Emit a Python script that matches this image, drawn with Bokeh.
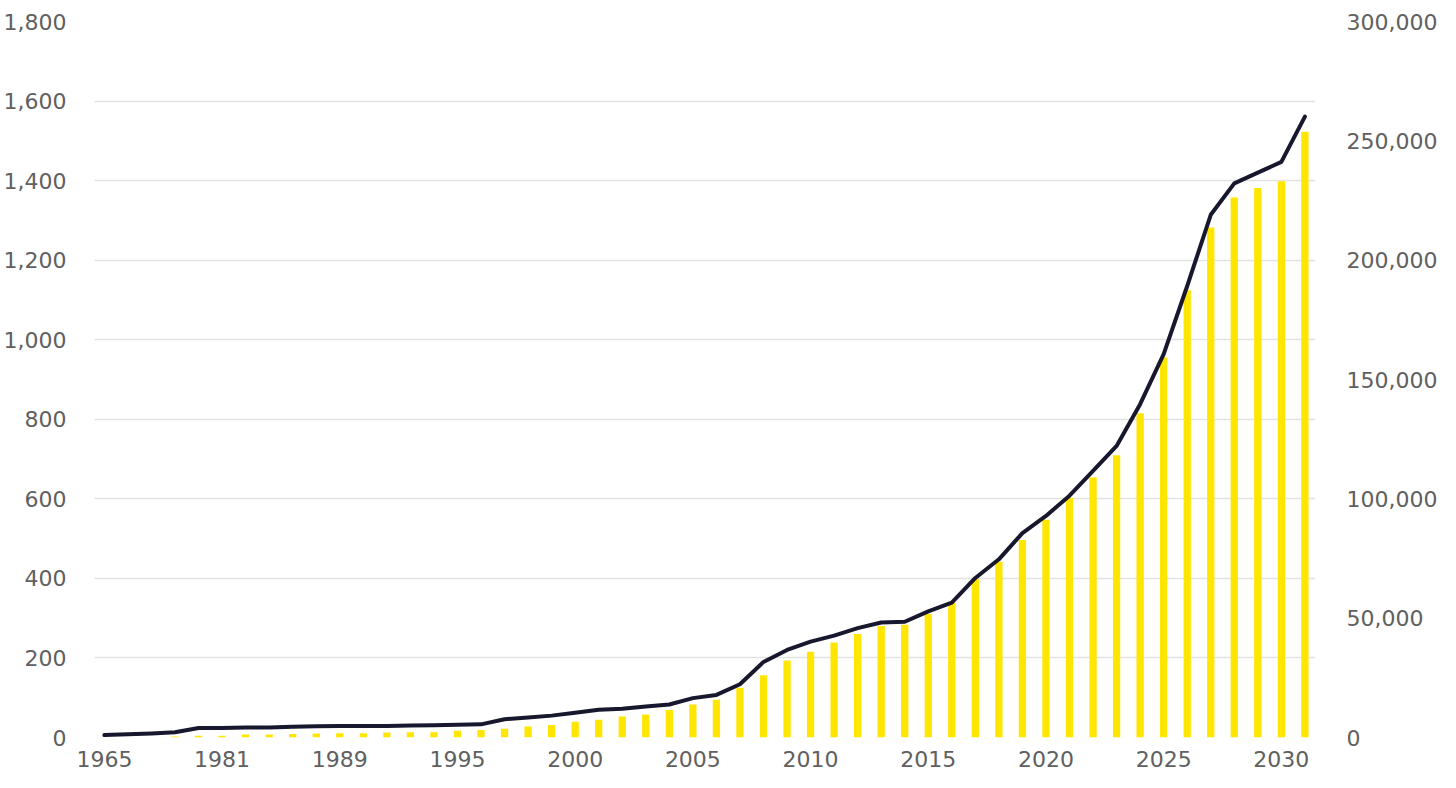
from bokeh.plotting import figure
from bokeh.models import Range1d, LinearAxis, FixedTicker, NumeralTickFormatter, ColumnDataSource
from bokeh.embed import file_html
from bokeh.resources import INLINE

years = ["1965", "1970", "1975", "1977", "1979", "1981", "1983", "1985", "1986", "1987",
         "1989", "1991", "1992", "1993", "1994", "1995", "1996", "1997", "1998", "1999",
         "2000", "2001", "2002", "2003", "2004", "2005", "2006", "2007", "2008", "2009",
         "2010", "2011", "2012", "2013", "2014", "2015", "2016", "2017", "2018", "2019",
         "2020", "2021", "2022", "2023", "2024", "2025", "2026", "2027", "2028", "2029",
         "2030", "2031"]

line_values = [6, 8, 10, 13, 24, 24, 25, 25, 27, 28, 29, 29, 29, 30, 31, 32, 33,
               46, 50, 55, 62, 70, 72, 78, 83, 99, 107, 134, 190, 220, 241, 256, 275,
               289, 291, 317, 339, 401, 448, 514, 557, 608, 670, 733, 838, 964, 1135,
               1314, 1393, 1420, 1447, 1561]

bar_values = [0, 0, 0, 400, 700, 700, 1300, 1300, 1500, 1700, 1800, 1800, 2100, 2200,
              2200, 2800, 3100, 3650, 4600, 5200, 6600, 7400, 8800, 9600, 11500, 13800,
              15800, 20800, 26100, 32300, 35900, 39800, 43400, 46700, 47200, 51700,
              56600, 66400, 73600, 82700, 91200, 100300, 108900, 118300, 135900, 159200,
              187400, 213700, 226300, 230200, 233100, 253800]

left_ticks = [0, 200, 400, 600, 800, 1000, 1200, 1400, 1600, 1800]
right_ticks = [0, 50000, 100000, 150000, 200000, 250000, 300000]

idx = list(range(len(years)))
src = ColumnDataSource(dict(x=idx, line=line_values, bar=bar_values))

FONT = "DejaVu Sans"
TXT = "#606060"

p = figure(width=1440, height=772, output_backend="svg", toolbar_location=None,
           x_range=Range1d(-0.42, 51.45), y_range=Range1d(0, 1800),
           min_border_left=87, min_border_top=21, min_border_right=124, min_border_bottom=35)
p.extra_y_ranges = {"right": Range1d(0, 300000)}
p.outline_line_color = None
p.background_fill_color = "white"
p.border_fill_color = "white"

p.vbar(x="x", top="bar", width=0.31, source=src, y_range_name="right",
       fill_color="#FFE600", line_color=None)
p.line(x="x", y="line", source=src, line_color="#17172e", line_width=4,
       line_join="round", line_cap="round")

# x axis
xa = p.xaxis[0]
xa.ticker = FixedTicker(ticks=list(range(0, len(years), 5)))
xa.major_label_overrides = {i: years[i] for i in range(0, len(years), 5)}
xa.major_label_standoff = 7
# left axis
ya = p.yaxis[0]
ya.ticker = FixedTicker(ticks=left_ticks)
ya.formatter = NumeralTickFormatter(format="0,0")
ya.major_label_standoff = 22

ra = LinearAxis(y_range_name="right", ticker=FixedTicker(ticks=right_ticks),
                formatter=NumeralTickFormatter(format="0,0"))
ra.major_label_standoff = 25
p.add_layout(ra, "right")

for ax in [xa, ya, ra]:
    ax.axis_line_color = None
    ax.major_tick_line_color = None
    ax.minor_tick_line_color = None
    ax.major_label_text_font = FONT
    ax.major_label_text_font_size = "22px"
    ax.major_label_text_color = TXT

p.xgrid.grid_line_color = None
p.ygrid.grid_line_color = "#e2e2e2"
p.ygrid.grid_line_width = 1.5

open("out.html", "w").write(file_html(p, INLINE))
